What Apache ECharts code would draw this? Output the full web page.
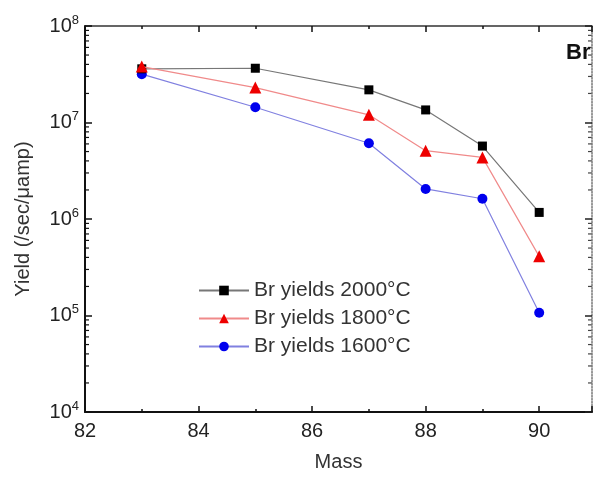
<!DOCTYPE html>
<html>
<head>
<meta charset="utf-8">
<script src="https://cdn.jsdelivr.net/npm/echarts@6/dist/echarts.min.js"></script>
<style>
  html, body { margin: 0; padding: 0; background: #fff; }
  #chart { width: 595px; height: 477px; }
</style>
</head>
<body>
<div id="chart"></div>
<script>
// data
const mass = [83, 85, 87, 88, 89, 90];
const yield2000 = [3.6e7, 3.65e7, 2.18e7, 1.35e7, 5.7e6, 1.17e6];
const yield1800 = [3.8e7, 2.3e7, 1.2e7, 5.1e6, 4.35e6, 4.1e5];
const yield1600 = [3.17e7, 1.44e7, 6.1e6, 2.05e6, 1.62e6, 1.07e5];
const seriesNames = ["Br yields 2000°C", "Br yields 1800°C", "Br yields 1600°C"];
const xMax = 90.93;

const font = "Liberation Sans, Arial, sans-serif";
const chart = echarts.init(document.getElementById("chart"));

function pairs(ys) {
  return mass.map((m, i) => [m, ys[i]]);
}

const xCommon = {
  type: "value",
  min: 82,
  max: xMax,
  interval: 2,
  axisLine: { lineStyle: { color: "#111", width: 2 } },
  axisTick: { inside: true, length: 6, lineStyle: { color: "#111", width: 1.5 } },
  minorTick: { show: true, splitNumber: 2, length: 3, lineStyle: { color: "#111", width: 1.5 } },
  splitLine: { show: false },
};

chart.setOption({
  animation: false,
  textStyle: { fontFamily: font },
  title: {
    text: "Br",
    left: 561,
    top: 37,
    textStyle: { fontSize: 22, fontWeight: "bold", color: "#111", fontFamily: font },
  },
  grid: { left: 85, right: 1, top: 26, bottom: 64 },
  legend: {
    orient: "vertical",
    left: 193,
    top: 275,
    itemWidth: 50,
    itemHeight: 12,
    itemGap: 7,
    textStyle: { fontSize: 21, color: "#333", lineHeight: 21, fontFamily: font },
    data: seriesNames,
  },
  xAxis: [
    Object.assign({}, xCommon, {
      position: "bottom",
      name: "Mass",
      nameLocation: "middle",
      nameGap: 40,
      nameTextStyle: { fontSize: 20, color: "#333", fontFamily: font },
      axisLabel: {
        fontSize: 20,
        color: "#222",
        margin: 9,
        formatter: (v) => (v % 2 === 0 ? String(v) : ""),
      },
    }),
    Object.assign({}, xCommon, {
      position: "top",
      axisLine: { lineStyle: { color: "#333", width: 1.5 } },
      axisLabel: { show: false },
    }),
  ],
  yAxis: [
    {
      type: "log",
      logBase: 10,
      min: 1e4,
      max: 1e8,
      position: "left",
      name: "Yield (/sec/μamp)",
      nameLocation: "middle",
      nameGap: 52,
      nameTextStyle: { fontSize: 20, color: "#333", fontFamily: font },
      axisLine: { lineStyle: { color: "#111", width: 2 } },
      axisTick: { inside: true, length: 7, lineStyle: { color: "#111", width: 1.5 } },
      splitLine: { show: false },
      axisLabel: {
        margin: 6,
        formatter: (v) => "{a|10}{b|" + Math.round(Math.log10(v)) + "}",
        rich: {
          a: { fontSize: 20, color: "#222", fontFamily: font, lineHeight: 22 },
          b: { fontSize: 13, color: "#222", fontFamily: font, padding: [0, 0, 12, 0] },
        },
      },
    },
    {
      type: "log",
      logBase: 10,
      min: 1e4,
      max: 1e8,
      position: "right",
      axisLine: { lineStyle: { color: "#777", width: 1.5, type: "dotted" } },
      axisTick: { inside: true, length: 7, lineStyle: { color: "#222", width: 1.5 } },
      axisLabel: { show: false },
      splitLine: { show: false },
    },
  ],
  series: [
    {
      name: seriesNames[0],
      type: "line",
      data: pairs(yield2000),
      symbol: "rect",
      symbolSize: 9,
      itemStyle: { color: "#000" },
      lineStyle: { color: "#777", width: 1.2 },
      z: 3,
    },
    {
      name: seriesNames[1],
      type: "line",
      data: pairs(yield1800),
      symbol: "triangle",
      symbolSize: 12,
      itemStyle: { color: "#ee0000" },
      lineStyle: { color: "#f08a8a", width: 1.2 },
      z: 4,
    },
    {
      name: seriesNames[2],
      type: "line",
      data: pairs(yield1600),
      symbol: "circle",
      symbolSize: 10,
      itemStyle: { color: "#0000ee" },
      lineStyle: { color: "#8080e0", width: 1.2 },
      z: 2,
    },
  ],
});

// logarithmic minor ticks (2..9 per decade) on the left and right axes
const minorTicks = [];
const xl = chart.convertToPixel({ xAxisIndex: 0 }, 82);
const xr = chart.convertToPixel({ xAxisIndex: 0 }, xMax);
for (let e = 4; e < 8; e++) {
  for (let k = 2; k <= 9; k++) {
    const y = chart.convertToPixel({ yAxisIndex: 0 }, k * Math.pow(10, e));
    minorTicks.push({
      type: "line",
      shape: { x1: xl, y1: y, x2: xl + 4, y2: y },
      style: { stroke: "#111", lineWidth: 1.2 },
      silent: true,
    });
    minorTicks.push({
      type: "line",
      shape: { x1: xr, y1: y, x2: xr - 4, y2: y },
      style: { stroke: "#444", lineWidth: 1.2 },
      silent: true,
    });
  }
}
chart.setOption({ graphic: minorTicks });
</script>
</body>
</html>
